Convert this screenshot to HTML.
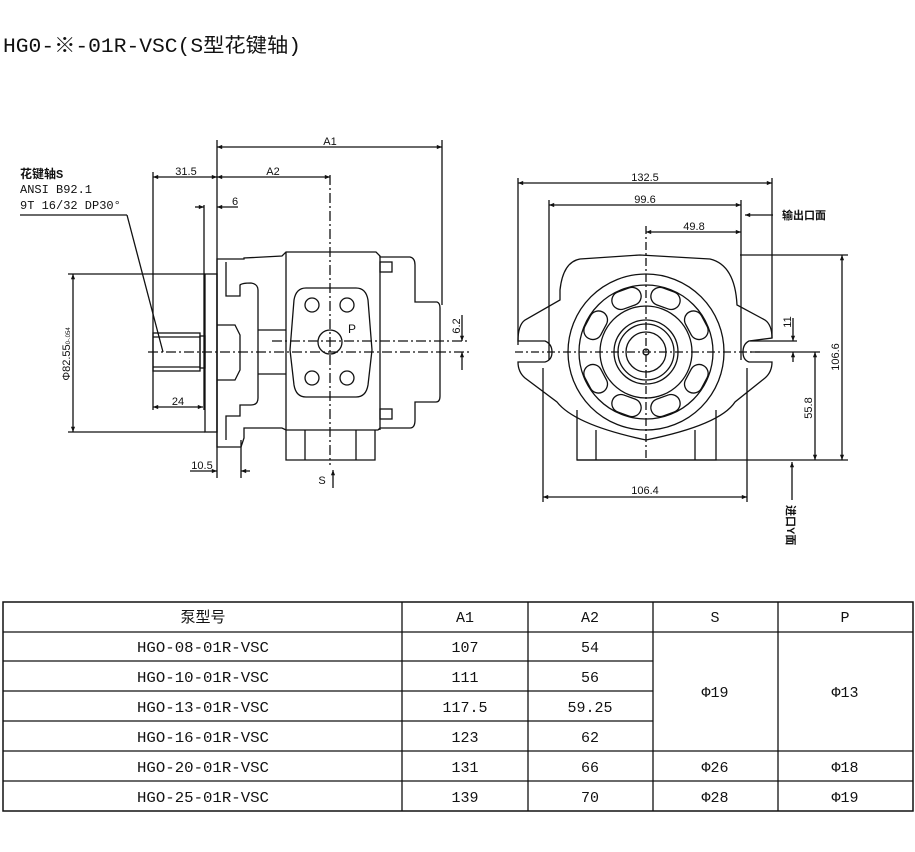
<!DOCTYPE html>
<html><head><meta charset="utf-8"><style>
html,body{margin:0;padding:0;background:#fff;width:915px;height:852px;overflow:hidden}
svg{display:block}
text{font-family:"Liberation Sans","Noto Sans CJK SC",sans-serif;fill:#111}
.m text, text.m{font-family:"Liberation Mono","Noto Sans CJK SC",monospace}
</style></head><body>
<svg width="915" height="852" viewBox="0 0 915 852" xmlns="http://www.w3.org/2000/svg">
<defs>
<marker id="a" viewBox="0 0 10 10" refX="10" refY="5" markerWidth="6" markerHeight="4" orient="auto-start-reverse"><path d="M0,1 L10,5 L0,9z" fill="#111"/></marker>
</defs>
<text x="3" y="52" class="m" font-size="20" textLength="298" lengthAdjust="spacingAndGlyphs">HG0-※-01R-VSC(S型花键轴)</text>

<g stroke="#111" fill="none" stroke-width="1.3">
<line x1="217" y1="140" x2="217" y2="478"/>
<line x1="442" y1="140" x2="442" y2="305"/>
<line x1="217" y1="147" x2="442" y2="147" marker-start="url(#a)" marker-end="url(#a)"/>
<line x1="153" y1="172" x2="153" y2="410"/>
<line x1="153" y1="177" x2="217" y2="177" marker-start="url(#a)" marker-end="url(#a)"/>
<line x1="217" y1="177" x2="330" y2="177" marker-start="url(#a)" marker-end="url(#a)"/>
<line x1="330" y1="175" x2="330" y2="465" stroke-dasharray="10,3,2,3"/>
<line x1="204" y1="205" x2="204" y2="410"/>
<line x1="195" y1="207" x2="204" y2="207" marker-end="url(#a)"/>
<line x1="217" y1="207" x2="238" y2="207" marker-start="url(#a)"/>
<line x1="20" y1="215" x2="127" y2="215"/>
<line x1="127" y1="215" x2="163" y2="352"/>
<line x1="68" y1="274" x2="205" y2="274"/>
<line x1="68" y1="432" x2="205" y2="432"/>
<line x1="73" y1="274" x2="73" y2="432" marker-start="url(#a)" marker-end="url(#a)"/>
<line x1="153" y1="407" x2="203" y2="407" marker-start="url(#a)" marker-end="url(#a)"/>
<line x1="241" y1="440" x2="241" y2="478"/>
<line x1="190" y1="471" x2="217" y2="471" marker-end="url(#a)"/>
<line x1="241" y1="471" x2="250" y2="471" marker-start="url(#a)"/>
<line x1="148" y1="352" x2="470" y2="352" stroke-dasharray="10,3,2,3"/>
<line x1="272" y1="341" x2="470" y2="341" stroke-dasharray="10,3,2,3"/>
<line x1="462" y1="315" x2="462" y2="341" marker-end="url(#a)"/>
<line x1="462" y1="352" x2="462" y2="370" marker-start="url(#a)"/>
<line x1="333" y1="488" x2="333" y2="470" marker-end="url(#a)"/>

<rect x="153" y="333" width="47" height="38"/>
<line x1="153" y1="337" x2="200" y2="337"/><line x1="153" y1="367" x2="200" y2="367"/>
<rect x="200" y="336" width="5" height="32"/>
<rect x="205" y="274" width="12" height="158"/>
<path d="M217,259 L244,259 L244,258 L282,256 L286,252 L376,252 L380,256 L380,257 L410,257 Q415,258 415,265 L415,302 L437,302 Q440,303 440,308 L440,396 Q440,402 436,402 L415,402 L415,420 Q415,428 410,428 L380,428 L378,430 L286,430 L282,428 L244,428 L244,438 L241,447 L217,447 Z"/>
<path d="M226,262 L226,296 L240,296 L240,285 Q242,283 251,283 Q258,284 258,290 L258,398 Q258,405 251,405 L240,405 L240,416 L226,416 L226,440"/>
<path d="M217,325 L235,325 L240,335 L240,370 L235,380 L217,380"/>
<line x1="286" y1="252" x2="286" y2="430"/><line x1="380" y1="256" x2="380" y2="430"/>
<line x1="258" y1="330" x2="286" y2="330"/><line x1="258" y1="374" x2="286" y2="374"/>
<rect x="380" y="262" width="12" height="10"/><rect x="380" y="409" width="12" height="10"/>
<path d="M286,430 L286,460 L375,460 L375,430"/>
<line x1="305" y1="430" x2="305" y2="460"/><line x1="356" y1="430" x2="356" y2="460"/>
<path d="M306,288 L356,288 Q366,288 368,300 L372,350 L368,385 Q366,397 356,397 L306,397 Q296,397 294,385 L290,350 L294,300 Q296,288 306,288 Z"/>
<circle cx="312" cy="305" r="7"/><circle cx="347" cy="305" r="7"/>
<circle cx="312" cy="378" r="7"/><circle cx="347" cy="378" r="7"/>
<circle cx="330" cy="342" r="12"/>

<line x1="518" y1="178" x2="518" y2="345"/>
<line x1="772" y1="178" x2="772" y2="338"/>
<line x1="518" y1="183" x2="772" y2="183" marker-start="url(#a)" marker-end="url(#a)"/>
<line x1="549" y1="200" x2="549" y2="360"/>
<line x1="741" y1="200" x2="741" y2="360"/>
<line x1="549" y1="205" x2="741" y2="205" marker-start="url(#a)" marker-end="url(#a)"/>
<line x1="646" y1="226" x2="646" y2="460" stroke-dasharray="8,3,2,3"/>
<line x1="646" y1="232" x2="741" y2="232" marker-start="url(#a)" marker-end="url(#a)"/>
<line x1="773" y1="215" x2="745" y2="215" marker-end="url(#a)"/>
<line x1="543" y1="368" x2="543" y2="502"/>
<line x1="747" y1="368" x2="747" y2="502"/>
<line x1="543" y1="497" x2="747" y2="497" marker-start="url(#a)" marker-end="url(#a)"/>
<line x1="740" y1="255" x2="848" y2="255"/>
<line x1="577" y1="460" x2="848" y2="460"/>
<line x1="842" y1="255" x2="842" y2="460" marker-start="url(#a)" marker-end="url(#a)"/>
<line x1="750" y1="352" x2="820" y2="352"/>
<line x1="815" y1="352" x2="815" y2="460" marker-start="url(#a)" marker-end="url(#a)"/>
<line x1="750" y1="341" x2="797" y2="341"/>
<line x1="793" y1="318" x2="793" y2="341" marker-end="url(#a)"/>
<line x1="793" y1="352" x2="793" y2="362" marker-start="url(#a)"/>
<line x1="792" y1="500" x2="792" y2="462" marker-end="url(#a)"/>
<line x1="515" y1="352" x2="760" y2="352" stroke-dasharray="8,3,2,3"/>

<path d="M560,290 Q563,262 580,259 L640,255 L710,259 Q735,265 737,305 L765,320 Q772,325 772,338 L749,341 Q743,344 743,352 Q743,360 749,362 L772,362 Q772,372 765,378 L735,402 Q720,425 646,440 Q575,425 557,402 L525,378 Q518,372 518,362 L545,362 Q552,360 552,352 Q552,344 545,341 L518,341 Q518,325 525,320 L560,300 Z"/>
<path d="M577,410 L577,460 L716,460 L716,410"/>
<line x1="596" y1="430" x2="596" y2="460"/><line x1="695" y1="430" x2="695" y2="460"/>
<circle cx="646" cy="352" r="78"/>
<circle cx="646" cy="352" r="67"/>
<circle cx="646" cy="352" r="46"/>
<circle cx="646" cy="352" r="32"/>
<circle cx="646" cy="352" r="28"/>
<circle cx="646" cy="352" r="20"/>
<circle cx="646" cy="352" r="3"/>
<g transform="translate(646,352)">
<rect x="-15" y="-66" width="30" height="18" rx="9" transform="rotate(-20)"/>
<rect x="-15" y="-66" width="30" height="18" rx="9" transform="rotate(20)"/>
<rect x="-15" y="-66" width="30" height="18" rx="9" transform="rotate(62)"/>
<rect x="-15" y="-66" width="30" height="18" rx="9" transform="rotate(-62)"/>
<rect x="-15" y="-66" width="30" height="18" rx="9" transform="rotate(118)"/>
<rect x="-15" y="-66" width="30" height="18" rx="9" transform="rotate(-118)"/>
<rect x="-15" y="-66" width="30" height="18" rx="9" transform="rotate(160)"/>
<rect x="-15" y="-66" width="30" height="18" rx="9" transform="rotate(-160)"/>
</g>

<rect x="3" y="602" width="910" height="209" stroke-width="1.5"/>
<line x1="3" y1="632" x2="913" y2="632"/>
<line x1="3" y1="661" x2="653" y2="661"/>
<line x1="3" y1="691" x2="653" y2="691"/>
<line x1="3" y1="721" x2="653" y2="721"/>
<line x1="3" y1="751" x2="913" y2="751"/>
<line x1="3" y1="781" x2="913" y2="781"/>
<line x1="402" y1="602" x2="402" y2="811"/>
<line x1="528" y1="602" x2="528" y2="811"/>
<line x1="653" y1="602" x2="653" y2="811"/>
<line x1="778" y1="602" x2="778" y2="811"/>
</g>

<g font-size="12" class="m">
<text x="20" y="178" font-weight="bold">花键轴S</text>
<text x="20" y="193">ANSI B92.1</text>
<text x="20" y="209">9T 16/32 DP30°</text>
</g>
<g font-size="11" text-anchor="middle">
<text x="330" y="145">A1</text>
<text x="186" y="175">31.5</text>
<text x="273" y="175">A2</text>
<text x="235" y="205">6</text>
<text x="178" y="405">24</text>
<text x="202" y="469">10.5</text>
<text x="352" y="333" font-size="12">P</text>
<text x="322" y="484">S</text>
<text x="645" y="181">132.5</text>
<text x="645" y="203">99.6</text>
<text x="694" y="230">49.8</text>
<text x="645" y="494">106.4</text>
<text transform="translate(70,354) rotate(-90)">Φ82.55<tspan font-size="6">0-.054</tspan></text>
<text transform="translate(460,326) rotate(-90)">6.2</text>
<text transform="translate(791,322) rotate(-90)">11</text>
<text transform="translate(812,408) rotate(-90)">55.8</text>
<text transform="translate(839,357) rotate(-90)">106.6</text>
</g>
<text x="782" y="219" font-size="11" font-weight="bold">输出口面</text>
<text transform="translate(787,505) rotate(90)" font-size="11" font-weight="bold">进口Y面</text>

<g font-size="15" text-anchor="middle" class="m">
<text x="203" y="622">泵型号</text><text x="465" y="622">A1</text><text x="590" y="622">A2</text><text x="715" y="622">S</text><text x="845" y="622">P</text>
<text x="203" y="652" textLength="132" lengthAdjust="spacingAndGlyphs">HGO-08-01R-VSC</text><text x="465" y="652">107</text><text x="590" y="652">54</text>
<text x="203" y="682" textLength="132" lengthAdjust="spacingAndGlyphs">HGO-10-01R-VSC</text><text x="465" y="682">111</text><text x="590" y="682">56</text>
<text x="203" y="712" textLength="132" lengthAdjust="spacingAndGlyphs">HGO-13-01R-VSC</text><text x="465" y="712">117.5</text><text x="590" y="712">59.25</text>
<text x="203" y="742" textLength="132" lengthAdjust="spacingAndGlyphs">HGO-16-01R-VSC</text><text x="465" y="742">123</text><text x="590" y="742">62</text>
<text x="203" y="772" textLength="132" lengthAdjust="spacingAndGlyphs">HGO-20-01R-VSC</text><text x="465" y="772">131</text><text x="590" y="772">66</text>
<text x="203" y="802" textLength="132" lengthAdjust="spacingAndGlyphs">HGO-25-01R-VSC</text><text x="465" y="802">139</text><text x="590" y="802">70</text>
<text x="715" y="697">Φ19</text><text x="845" y="697">Φ13</text>
<text x="715" y="772">Φ26</text><text x="845" y="772">Φ18</text>
<text x="715" y="802">Φ28</text><text x="845" y="802">Φ19</text>
</g>
</svg>
</body></html>
